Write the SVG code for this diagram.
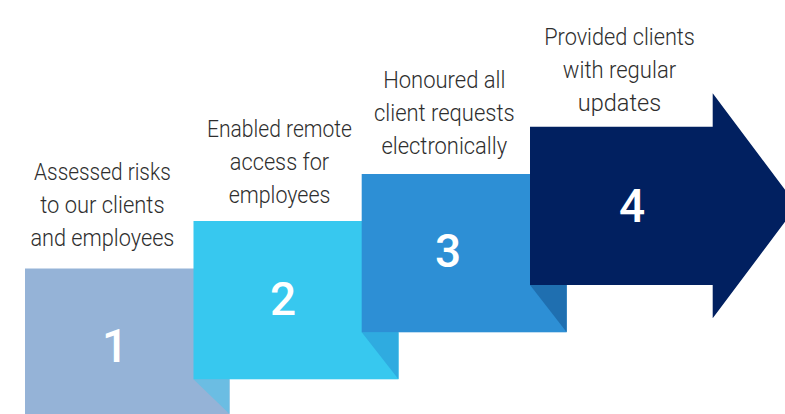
<svg xmlns="http://www.w3.org/2000/svg" width="785" height="414" viewBox="0 0 785 414">
  <style>
    .label { font-family: Roboto, "Liberation Sans", sans-serif; font-size: 23px; font-weight: 300; fill: #2e2e2e; text-anchor: middle; }
    .num { font-family: Roboto, "Liberation Sans", sans-serif; font-size: 46px; font-weight: 500; fill: #ffffff; text-anchor: middle; }
  </style>
  <rect width="785" height="414" fill="#ffffff"/>

  <!-- Step 1 -->
  <g id="step1">
    <rect x="25" y="268.5" width="204.5" height="146" fill="#95b3d7"/>
    <polygon points="193.5,379.3 229.5,379.3 229.5,414" fill="#6bbde3"/>
    <text class="num" x="115" y="361.5">1</text>
    <text class="label" x="102.4" y="179.5" textLength="136.7" lengthAdjust="spacingAndGlyphs">Assessed risks</text>
    <text class="label" x="102.4" y="213" textLength="124.3" lengthAdjust="spacingAndGlyphs">to our clients</text>
    <text class="label" x="102.4" y="246" textLength="144" lengthAdjust="spacingAndGlyphs">and employees</text>
  </g>

  <!-- Step 2 -->
  <g id="step2">
    <rect x="193.5" y="221" width="205" height="158.3" fill="#37c8ef"/>
    <polygon points="361.7,332.3 398.5,332.3 398.5,379.3" fill="#2fabe0"/>
    <text class="num" x="283" y="314.5">2</text>
    <text class="label" x="279.5" y="137" textLength="145" lengthAdjust="spacingAndGlyphs">Enabled remote</text>
    <text class="label" x="279.5" y="170" textLength="99.3" lengthAdjust="spacingAndGlyphs">access for</text>
    <text class="label" x="279.5" y="203" textLength="101.7" lengthAdjust="spacingAndGlyphs">employees</text>
  </g>

  <!-- Step 3 -->
  <g id="step3">
    <rect x="361.7" y="174" width="205" height="158.3" fill="#2d8fd5"/>
    <polygon points="530,285 566.7,285 566.7,332.3" fill="#1f6fb0"/>
    <text class="num" x="448" y="266.5">3</text>
    <text class="label" x="444.3" y="88" textLength="122.3" lengthAdjust="spacingAndGlyphs">Honoured all</text>
    <text class="label" x="444.3" y="121" textLength="140.7" lengthAdjust="spacingAndGlyphs">client requests</text>
    <text class="label" x="444.3" y="154" textLength="125.7" lengthAdjust="spacingAndGlyphs">electronically</text>
  </g>

  <!-- Step 4: arrow -->
  <g id="step4">
    <polygon points="530,126.7 712.7,126.7 712.7,93.3 797,205.8 712.7,318.3 712.7,285 530,285" fill="#012060"/>
    <text class="num" x="632" y="221.5">4</text>
    <text class="label" x="619.5" y="45" textLength="150.7" lengthAdjust="spacingAndGlyphs">Provided clients</text>
    <text class="label" x="619.5" y="78" textLength="113.3" lengthAdjust="spacingAndGlyphs">with regular</text>
    <text class="label" x="619.5" y="111" textLength="83.3" lengthAdjust="spacingAndGlyphs">updates</text>
  </g>
</svg>
